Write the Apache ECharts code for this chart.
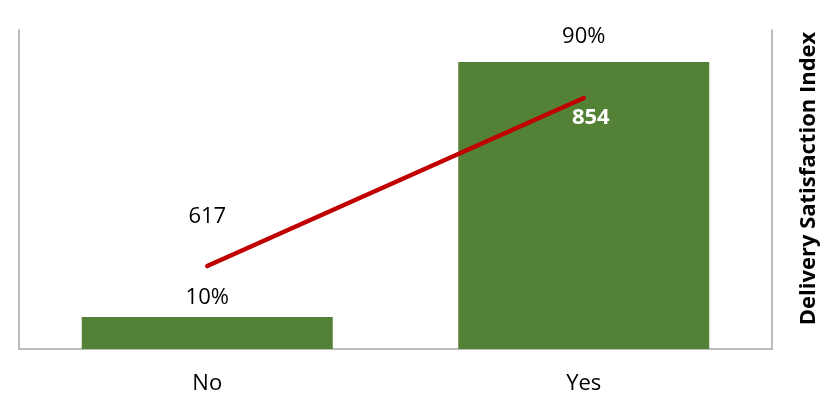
<!DOCTYPE html>
<html>
<head>
<meta charset="utf-8">
<script src="https://cdn.jsdelivr.net/npm/echarts@6/dist/echarts.min.js"></script>
<style>
  html, body { margin: 0; padding: 0; background: #fff; }
  #chart { width: 835px; height: 395px; }
</style>
</head>
<body>
<div id="chart"></div>
<script>
// Delivery answer categories
const categories = ['No', 'Yes'];
// Share of respondents per answer (percent)
const shareValues = [10, 90];
// Delivery Satisfaction Index per answer
const indexValues = [617, 854];
// Per-bar gap between bar top and its percentage label
const shareLabelGaps = [8, 14];

const FONT = '"Open Sans", sans-serif';
const chart = echarts.init(document.getElementById('chart'));

chart.setOption({
  animation: false,
  grid: { left: 19, right: 63, top: 30, bottom: 46, containLabel: false },
  xAxis: {
    type: 'category',
    data: categories,
    axisLine: { show: true, lineStyle: { color: '#A6A6A6', width: 1.5 } },
    axisTick: { show: false },
    axisLabel: { color: '#000', fontSize: 22, fontFamily: FONT, margin: 24 }
  },
  yAxis: [
    {
      type: 'value', min: 0, max: 100, interval: 10,
      axisLine: { show: true, lineStyle: { color: '#A6A6A6', width: 1.5 } },
      axisTick: { show: false },
      axisLabel: { show: false },
      splitLine: { show: false }
    },
    {
      type: 'value', min: 500, max: 950, interval: 50, position: 'right',
      axisLine: { show: true, lineStyle: { color: '#A6A6A6', width: 1.5 } },
      axisTick: { show: false },
      axisLabel: { show: false },
      splitLine: { show: false },
      name: 'Delivery Satisfaction Index',
      nameLocation: 'middle',
      nameRotate: 90,
      nameGap: 26,
      nameTextStyle: {
        color: '#000', fontSize: 22, fontWeight: 'bold', fontFamily: FONT,
        padding: [0, 0, 0, 22]
      }
    }
  ],
  series: [
    {
      type: 'bar',
      yAxisIndex: 0,
      barWidth: 251,
      itemStyle: { color: '#538135' },
      data: shareValues.map((v, i) => ({
        value: v,
        label: { distance: shareLabelGaps[i] }
      })),
      label: {
        show: true, position: 'top',
        formatter: '{c}%',
        color: '#000', fontSize: 22, fontFamily: FONT
      }
    },
    {
      type: 'line',
      yAxisIndex: 1,
      data: [
        { value: indexValues[0], label: { position: 'top', distance: 38, color: '#000', fontWeight: 'normal' } },
        { value: indexValues[1], label: { position: 'bottom', distance: 9, offset: [7, 0], color: '#fff', fontWeight: 'bold' } }
      ],
      symbol: 'circle',
      symbolSize: 0,
      showSymbol: true,
      lineStyle: { color: '#C00000', width: 4.5, cap: 'round' },
      itemStyle: { color: '#C00000' },
      label: { show: true, fontSize: 22, fontFamily: FONT }
    }
  ]
});
</script>
</body>
</html>
